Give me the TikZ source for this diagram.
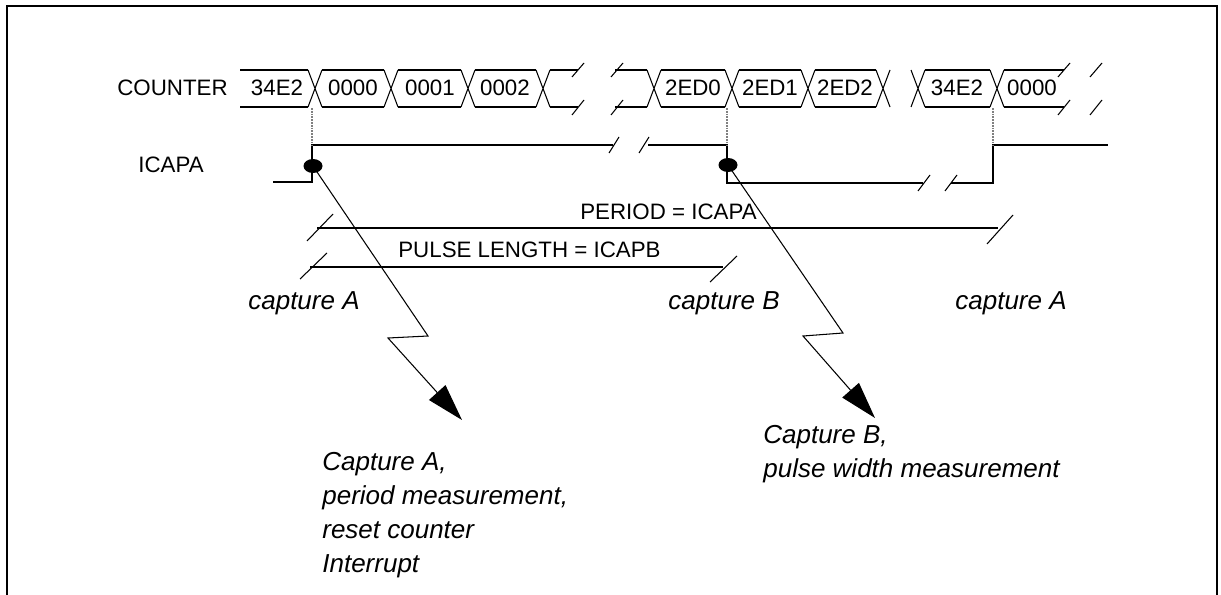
\documentclass[tikz,border=0pt]{standalone}
\usepackage{fontspec}
\setmainfont{Liberation Sans}
\usetikzlibrary{arrows.meta, shapes.geometric}

\begin{document}
\begin{tikzpicture}[x=0.02cm, y=-0.02cm,
    >={Triangle[length=0.74cm, width=0.44cm]},
    sig/.style={line width=1.1pt},
    busline/.style={line width=0.6pt},
    brk/.style={line width=0.6pt},
    val/.style={font=\fontsize{12.7}{14}\selectfont, inner sep=0pt},
    lbl/.style={font=\fontsize{12.7}{14}\selectfont, inner sep=0pt, anchor=west},
    capt/.style={font=\fontsize{14.8}{17}\selectfont\itshape, inner sep=0pt, anchor=west},
    note/.style={font=\fontsize{14.8}{19.3}\selectfont\itshape, align=left,
      inner sep=0pt, anchor=north west},
    edge/.style={draw=gray, dash pattern=on 1pt off 0.6pt, line width=0.8pt},
    capdot/.style={ellipse, fill, minimum width=0.38cm, minimum height=0.28cm, inner sep=0pt},
    zap/.style={line width=0.6pt, ->},
  ]
    \useasboundingbox (0,0) rectangle (1221,595);
    \draw[line width=1.2pt] (7,595) -- (7,6) -- (1217,6) -- (1217,595);

    % counter bus
    \node[lbl] (cnt) at (117,88) {COUNTER};
    \foreach \a/\b in {240/308, 322/384, 398/461, 475/536, 661/725, 739/801, 815/876, 925/990}
      \draw[busline] (\a,70) -- (\b,70) (\a,107) -- (\b,107);
    \foreach \a/\b in {550/578, 615/647, 1004/1064}
      \draw[sig] (\a,70) -- (\b,70) (\a,107) -- (\b,107);
    \foreach \c in {315,391,468,543,654,732,808,883,918,997}
      \draw[busline] (\c-7,70) -- (\c+7,107) (\c-7,107) -- (\c+7,70);
    \foreach \s in {578,617,1064,1096}
      \draw[brk] (\s-6,77) -- (\s+6,63) (\s-6,115) -- (\s+6,100);
    \foreach \x/\v/\n in {277/34E2/a, 353/0000/b, 430/0001/c, 505/0002/d,
                          693/2ED0/e, 770/2ED1/f, 845/2ED2/g, 957/34E2/h, 1032/0000/i}
      \node[val] (v\n) at (\x,88) {\v};

    % ICAPA
    \node[lbl] (icapa) at (138,165) {ICAPA};
    \draw[sig] (273,182) -- (312,182) -- (312,145) -- (613,145);
    \draw[sig] (648,145) -- (727,145) -- (727,183) -- (923,183);
    \draw[sig] (951,183) -- (993,183) -- (993,145) -- (1108,145);
    \draw[brk] (609,153) -- (619,137) (639,153) -- (649,137);
    \draw[brk] (918,191) -- (930,175) (945,191) -- (957,175);
    \foreach \x in {312,727,993}
      \draw[edge] (\x,108) -- (\x,145);
    \node[capdot] (dotA) at (313,166) {};
    \node[capdot] (dotB) at (728,165) {};

    % period / pulse
    \node[lbl] (per) at (580,212) {PERIOD = ICAPA};
    \draw[sig] (317,228) -- (998,228);
    \draw[brk] (307,241) -- (333,214) (987,244) -- (1013,215);
    \node[lbl] (pul) at (398,250) {PULSE LENGTH = ICAPB};
    \draw[sig] (310,267) -- (723,267);
    \draw[brk] (300,279) -- (327,253) (710,282) -- (737,256);

    \node[capt] (capA) at (248,303) {capture A};
    \node[capt] (capB) at (668,303) {capture B};
    \node[capt] (capA2) at (955,303) {capture A};

    % interrupts
    \coordinate (tipA) at (462,420);
    \coordinate (tipB) at (875,418);
    \draw[zap] (dotA.center) -- (428,336) -- (388,338) -- (tipA);
    \draw[zap] (dotB.center) -- (843,333) -- (803,336) -- (tipB);
    \node[note] (noteA) at (322,452) {Capture A,\\period measurement,\\reset counter\\Interrupt};
    \node[note] (noteB) at (763,425) {Capture B,\\pulse width measurement};
\end{tikzpicture}
\end{document}
